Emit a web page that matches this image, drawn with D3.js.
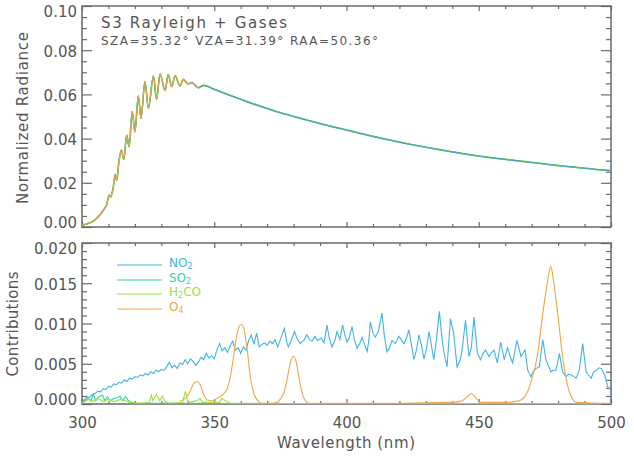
<!DOCTYPE html>
<html><head><meta charset="utf-8">
<script src="https://cdn.jsdelivr.net/npm/d3@7"></script>
<style>
html,body{margin:0;padding:0;background:#fff;}
svg{display:block;}
text{font-family:"DejaVu Sans",sans-serif;fill:#555555;}
</style></head><body>
<svg id="c" width="634" height="460"></svg>
<script>
// ---------------- DATA ----------------
const title = "S3 Rayleigh + Gases";
const subtitle = "SZA=35.32\u00B0 VZA=31.39\u00B0 RAA=50.36\u00B0";
const xLabel = "Wavelength (nm)";
const topYLabel = "Normalized Radiance";
const botYLabel = "Contributions";
const xTicks = [300, 350, 400, 450, 500];
const topYTicks = [0, 0.02, 0.04, 0.06, 0.08, 0.10];
const botYTicks = [0, 0.005, 0.010, 0.015, 0.020];
const gasNames = ["NO2", "SO2", "H2CO", "O4"];

// normalized radiance [wavelength nm, value]
const radiance = [[300,0.0008],[301,0.0011],[302,0.0015],[303,0.0019],[304,0.0025],[305,0.0033],[306,0.0045],[307,0.0058],[308,0.0075],
[309.3,0.0100],[310.3,0.0145],[310.8,0.0135],[311.8,0.0178],[312.6,0.0238],[313.1,0.0210],[314.0,0.0300],
[314.9,0.0348],[315.8,0.0306],[316.9,0.0416],[317.8,0.0364],[319.0,0.0522],[320.0,0.0431],[321.3,0.0593],[322.3,0.0492],[323.8,0.0658],[325.1,0.0537],
[327.0,0.0683],[328.2,0.0578],[329.5,0.0692],[331.4,0.0617],[332.6,0.0690],[333.9,0.0635],[335.2,0.0685],[337.0,0.0638],[338.3,0.0668],[340.2,0.0647],
[341.5,0.0653],[344.0,0.0630],[346,0.0641],[350,0.0623],[355,0.0600],[360,0.0578],[365,0.0556],[370,0.0536],[375,0.0517],[380,0.0500],
[385,0.0484],[390,0.0468],[395,0.0453],[400,0.0439],[405,0.0424],[410,0.0410],[415,0.0397],[420,0.0384],[425,0.0372],[430,0.0361],
[435,0.0350],[440,0.0340],[445,0.0330],[450,0.0321],[455,0.0313],[460,0.0306],[465,0.0299],[470,0.0292],[475,0.0285],[480,0.0278],
[485,0.0272],[490,0.0266],[495,0.0260],[500,0.0255]];

// contributions [wavelength nm, value]
const no2 = [[300,0.0001],[301,0.0004],[302,0.0007],[303,0.0009],[304,0.0012],[305,0.0013],[306,0.0016],[307,0.0015],[308,0.0019],[309,0.0018],
[310,0.0022],[311,0.0021],[312,0.0025],[313,0.0024],[314,0.0027],[315,0.0026],[316,0.0030],[317,0.0028],[318,0.0032],[319,0.0031],
[320,0.0034],[321,0.0033],[322,0.0036],[323,0.0035],[324,0.0038],[325,0.0036],[326,0.0040],[327,0.0038],[328,0.0042],[329,0.0040],
[330,0.0043],[331,0.0042],[332,0.0046],[333,0.0052],[334,0.0045],[335,0.0048],[336,0.0044],[337,0.0051],[338,0.0049],[339,0.0055],
[340,0.0050],[341,0.0056],[342,0.0053],[343,0.0048],[344,0.0052],[345,0.0058],[346,0.0055],[347,0.0063],[348,0.0057],[349,0.0060],
[350,0.0056],[351,0.0067],[352,0.0075],[353,0.0066],[354,0.0070],[355,0.0064],[356,0.0072],[357,0.0078],[358,0.0067],[359,0.0070],
[360,0.0063],[361,0.0071],[362,0.0067],[363,0.0079],[364,0.0086],[365,0.0074],[366,0.0088],[367,0.0071],[368,0.0074],[369,0.0076],
[370,0.0073],[371,0.0078],[372,0.0075],[373,0.0080],[374,0.0071],[375,0.0080],[376.5,0.0094],[377.5,0.0076],[378,0.0071],[379,0.0078],
[380.3,0.0090],[381.5,0.0080],[382.5,0.0075],[384,0.0080],[385,0.0086],[386,0.0080],[387,0.0078],[388,0.0084],[389,0.0079],[390.5,0.0082],
[391.5,0.0076],[392.6,0.0098],[393.5,0.0082],[394.5,0.0071],[395.5,0.0078],[396.4,0.0090],[397.5,0.0080],[398.5,0.0098],[399.5,0.0085],[400.2,0.0077],
[401,0.0082],[402.1,0.0096],[403,0.0080],[404,0.0069],[405,0.0075],[405.9,0.0083],[407,0.0072],[407.8,0.0065],[408.5,0.0080],[409,0.0102],
[410,0.0088],[410.9,0.0083],[412,0.0090],[413.4,0.0113],[414.3,0.0085],[415.3,0.0065],[416.3,0.0070],[417.2,0.0079],[418.5,0.0075],[419.8,0.0084],
[420.7,0.0080],[421.7,0.0075],[422.7,0.0082],[423.6,0.0092],[424.5,0.0075],[425.5,0.0055],[426.5,0.0068],[427.4,0.0086],[428.4,0.0072],[429.3,0.0056],
[430.2,0.0068],[431.2,0.0090],[432,0.0075],[433,0.0055],[434,0.0080],[435.1,0.0115],[436,0.0085],[436.7,0.0067],[438,0.0046],[439.3,0.0106],
[440.5,0.0088],[441.8,0.0046],[443,0.0055],[443.7,0.0067],[445,0.0104],[446.3,0.0059],[447.2,0.0070],[448.2,0.0108],[449.5,0.0063],[450.7,0.0055],
[451.5,0.0062],[452.6,0.0067],[453.9,0.0059],[454.8,0.0064],[455.8,0.0067],[457,0.0051],[458.3,0.0077],[459.6,0.0055],[460.9,0.0070],[462,0.0058],
[462.8,0.0051],[464.4,0.0079],[466,0.0059],[467.5,0.0067],[468.5,0.0042],[469.7,0.0034],[470.5,0.0040],[471.6,0.0044],[472.9,0.0046],[474.2,0.0080],
[475.4,0.0055],[476.3,0.0048],[477.3,0.0040],[478.2,0.0042],[479.2,0.0042],[480.5,0.0063],[481.7,0.0040],[483,0.0034],[484,0.0037],[484.9,0.0036],
[486,0.0034],[486.8,0.0032],[488,0.0042],[489.3,0.0075],[490.6,0.0040],[491.5,0.0036],[492.5,0.0032],[493.5,0.0040],[494.4,0.0042],[495.5,0.0045],
[496.3,0.0044],[497.6,0.0036],[498.8,0.0021],[500,0.0017]];

const so2 = [[300,0.0002],[300.8,0.0005],[302,0.0009],[303.3,0.0004],[304.3,0.0012],[305.2,0.0004],[306.4,0.0009],[307.7,0.0011],[308.7,0.0004],
[309.6,0.0009],[310.8,0.0004],[312.1,0.0007],[313.4,0.0008],[314.4,0.0010],[315.3,0.0004],[316.5,0.0009],[317.8,0.0003],[320,0.0001],
[330,0.0001],[345,0.0001],[360,0.00003],[500,0.00003]];

const h2co = [[300,0.0001],[302.5,0.0006],[304,0.0003],[306,0.0007],[308,0.0003],[310,0.0006],[312,0.0003],[315,0.0006],[318,0.0002],
[322,0.0001],[325.5,0.0002],[326.2,0.0011],[326.8,0.0004],[328.1,0.0012],[329.4,0.0004],[330.4,0.0010],[331.3,0.0003],[333,0.0001],
[338,0.0002],[339.1,0.0016],[339.9,0.0004],[341,0.0002],[343.9,0.0005],[344.6,0.0007],[345.5,0.0002],[352,0.0002],[352.9,0.0007],
[354.2,0.0004],[356,0.0001],[365,0.0001],[400,0.00003],[500,0.00003]];

const o4 = [[337,0.0004],[338,0.0005],[339.6,0.0009],[340.8,0.0015],[342,0.0024],[343.4,0.0028],[344.7,0.0024],[346,0.0012],[347.3,0.0005],
[349.2,0.0004],[351.1,0.0007],[353.6,0.0013],[355,0.0020],[356.1,0.0034],[357,0.0052],[358,0.0075],[359,0.0092],[360.2,0.0099],[361.1,0.0095],
[362.4,0.0069],[363.7,0.0032],[364.9,0.0014],[366.8,0.0003],[368,0.0001],[372,0.0001],[373.8,0.0002],[375,0.0006],[376.3,0.0014],[377.3,0.0027],
[378.2,0.0042],[379,0.0054],[379.9,0.0059],[381,0.0052],[382,0.0034],[383,0.0017],[383.8,0.0008],[385.7,0.0001],[420,0.0001],[440,0.0002],
[443.7,0.0004],[445.6,0.0009],[447.3,0.0013],[448.8,0.0008],[450.7,0.0002],[460,0.0002],[463.4,0.0003],[466,0.0005],[468.1,0.0013],
[470,0.0030],[472.1,0.0059],[474.4,0.0117],[475.9,0.0150],[477.2,0.0171],[478.4,0.0150],[479.7,0.0117],[481.7,0.0059],[483,0.0032],
[484.5,0.0013],[487,0.0002],[495,0.0001],[500,0.0001]];

// ---------------- STYLE / LAYOUT ----------------
const colors = {NO2:"#41b4e4", SO2:"#2fd6a2", H2CO:"#9ee03c", O4:"#f2a544"};
const L = 82, R = 611;
const T1 = 6, B1 = 227, T2 = 243, B2 = 404;
const frameColor = "#6a6a6a";
const textColor = "#555555";

const svg = d3.select("#c");
const x = d3.scaleLinear().domain([300, 500]).range([L, R]);
const yTop = d3.scaleLinear().domain([0, 0.1]).range([B1, T1]);
const yBot = d3.scaleLinear().domain([0, 0.02]).range([B2, T2]);

const xMinor = d3.range(300, 501, 10).filter(v => v % 50 !== 0);
const topMinor = d3.range(0, 0.1001, 0.005).filter((v,i) => i % 4 !== 0);
const botMinor = d3.range(0, 0.02001, 0.001).filter((v,i) => i % 5 !== 0);

function panel(y, T, B, yTicks, yMinor, fmt, showX, clipId) {
  const g = svg.append("g");
  const ticks = (axisFn, pos, vals, size, fmtf, pad) => {
    const a = axisFn.tickValues(vals).tickSize(size).tickPadding(pad || 4).tickFormat(fmtf);
    const gg = g.append("g").attr("transform", pos).call(a);
    gg.select(".domain").remove();
    gg.selectAll(".tick line").attr("stroke", frameColor).attr("stroke-width", 1.2);
    return gg;
  };
  const none = () => "";
  const xb = ticks(d3.axisBottom(x), `translate(0,${B})`, xTicks, -5, showX ? d3.format("d") : none, 13);
  ticks(d3.axisBottom(x), `translate(0,${B})`, xMinor, -3, none);
  ticks(d3.axisTop(x), `translate(0,${T})`, xTicks, -5, none);
  ticks(d3.axisTop(x), `translate(0,${T})`, xMinor, -3, none);
  const yl = ticks(d3.axisLeft(y), `translate(${L},0)`, yTicks, -10, d3.format(fmt), 5);
  ticks(d3.axisLeft(y), `translate(${L},0)`, yMinor, -5, none);
  ticks(d3.axisRight(y), `translate(${R},0)`, yTicks, -10, none);
  ticks(d3.axisRight(y), `translate(${R},0)`, yMinor, -5, none);
  yl.selectAll(".tick text").attr("font-size", 15).attr("font-family", "DejaVu Sans").attr("fill", textColor);
  yl.selectAll(".tick text").attr("y", d => d === yTicks[0] ? -4 : (d === yTicks[yTicks.length-1] ? 6 : 1));
  xb.selectAll(".tick text").attr("font-size", 15).attr("font-family", "DejaVu Sans").attr("fill", textColor);
  g.append("rect").attr("x", L).attr("y", T).attr("width", R - L).attr("height", B - T)
    .attr("fill", "none").attr("stroke", frameColor).attr("stroke-width", 1.5);
  svg.append("clipPath").attr("id", clipId).append("rect")
    .attr("x", L).attr("y", T - 1).attr("width", R - L).attr("height", B - T + 1);
  return g;
}

panel(yTop, T1, B1, topYTicks, topMinor, ".2f", false, "clipTop");
panel(yBot, T2, B2, botYTicks, botMinor, ".3f", true, "clipBot");

// ---------- top panel lines (four nearly identical radiance curves) ----------
const lineTop = d3.line().x(d => x(d[0])).y(d => yTop(d[1])).curve(d3.curveMonotoneX);
const gTop = svg.append("g").attr("clip-path", "url(#clipTop)");
gTop.append("path").datum(radiance).attr("d", lineTop).attr("fill", "none").attr("stroke", colors.O4).attr("stroke-width", 1.1);
gTop.append("path").datum(radiance).attr("d", lineTop).attr("fill", "none").attr("stroke", colors.H2CO).attr("stroke-width", 1.7);
gTop.append("path").datum(radiance).attr("d", lineTop).attr("fill", "none").attr("stroke", colors.SO2).attr("stroke-width", 1.3);
gTop.append("path").datum(radiance).attr("d", lineTop).attr("fill", "none").attr("stroke", "#5a9fbd").attr("stroke-width", 1.1);
gTop.append("path").datum(radiance.filter(d => d[0] <= 344)).attr("d", lineTop).attr("fill", "none").attr("stroke", colors.O4).attr("stroke-width", 1.1);

// ---------- bottom panel lines ----------
const lineLin = d3.line().x(d => x(d[0])).y(d => yBot(d[1]));
const lineSmooth = d3.line().x(d => x(d[0])).y(d => yBot(d[1])).curve(d3.curveMonotoneX);
const gBot = svg.append("g").attr("clip-path", "url(#clipBot)");
gBot.append("path").datum(no2).attr("d", lineLin).attr("fill", "none").attr("stroke", colors.NO2).attr("stroke-width", 1.1);
gBot.append("path").datum(o4).attr("d", lineSmooth).attr("fill", "none").attr("stroke", colors.O4).attr("stroke-width", 1.1);
gBot.append("path").datum(so2).attr("d", lineLin).attr("fill", "none").attr("stroke", colors.SO2).attr("stroke-width", 1.1);
gBot.append("path").datum(h2co).attr("d", lineLin).attr("fill", "none").attr("stroke", colors.H2CO).attr("stroke-width", 1.1);

// ---------- legend ----------
const legY = [265, 280, 294, 309];
const legParts = {
  NO2: [["NO",0],["2",1]],
  SO2: [["SO",0],["2",1]],
  H2CO: [["H",0],["2",1],["CO",0]],
  O4: [["O",0],["4",1]]
};
gasNames.forEach((name, i) => {
  const yy = legY[i];
  svg.append("line").attr("x1", 117).attr("x2", 162).attr("y1", yy).attr("y2", yy)
    .attr("stroke", colors[name]).attr("stroke-width", 1.1);
  const t = svg.append("text").attr("x", 169).attr("y", yy + 1.5).attr("font-size", 12)
    .style("fill", colors[name]);
  let sub = false;
  legParts[name].forEach(([s, isSub]) => {
    const ts = t.append("tspan").text(s).style("fill", colors[name]);
    if (isSub && !sub) { ts.attr("dy", 2.5).attr("font-size", 8); sub = true; }
    else if (!isSub && sub) { ts.attr("dy", -2.5); sub = false; }
  });
});

// ---------- titles ----------
svg.append("text").attr("x", 101).attr("y", 28).attr("font-size", 15)
  .attr("textLength", 186).attr("lengthAdjust", "spacing").text(title);
svg.append("text").attr("x", 101).attr("y", 44.5).attr("font-size", 12)
  .attr("textLength", 277).attr("lengthAdjust", "spacing").text(subtitle);
svg.append("text").attr("x", 346).attr("y", 448).attr("font-size", 15).attr("text-anchor", "middle")
  .attr("textLength", 138).attr("lengthAdjust", "spacing").text(xLabel);
svg.append("text").attr("transform", "translate(28,118) rotate(-90)").attr("font-size", 15)
  .attr("text-anchor", "middle").attr("textLength", 172).attr("lengthAdjust", "spacing").text(topYLabel);
svg.append("text").attr("transform", "translate(18,324) rotate(-90)").attr("font-size", 15)
  .attr("text-anchor", "middle").attr("textLength", 105).attr("lengthAdjust", "spacing").text(botYLabel);
</script>
</body></html>
